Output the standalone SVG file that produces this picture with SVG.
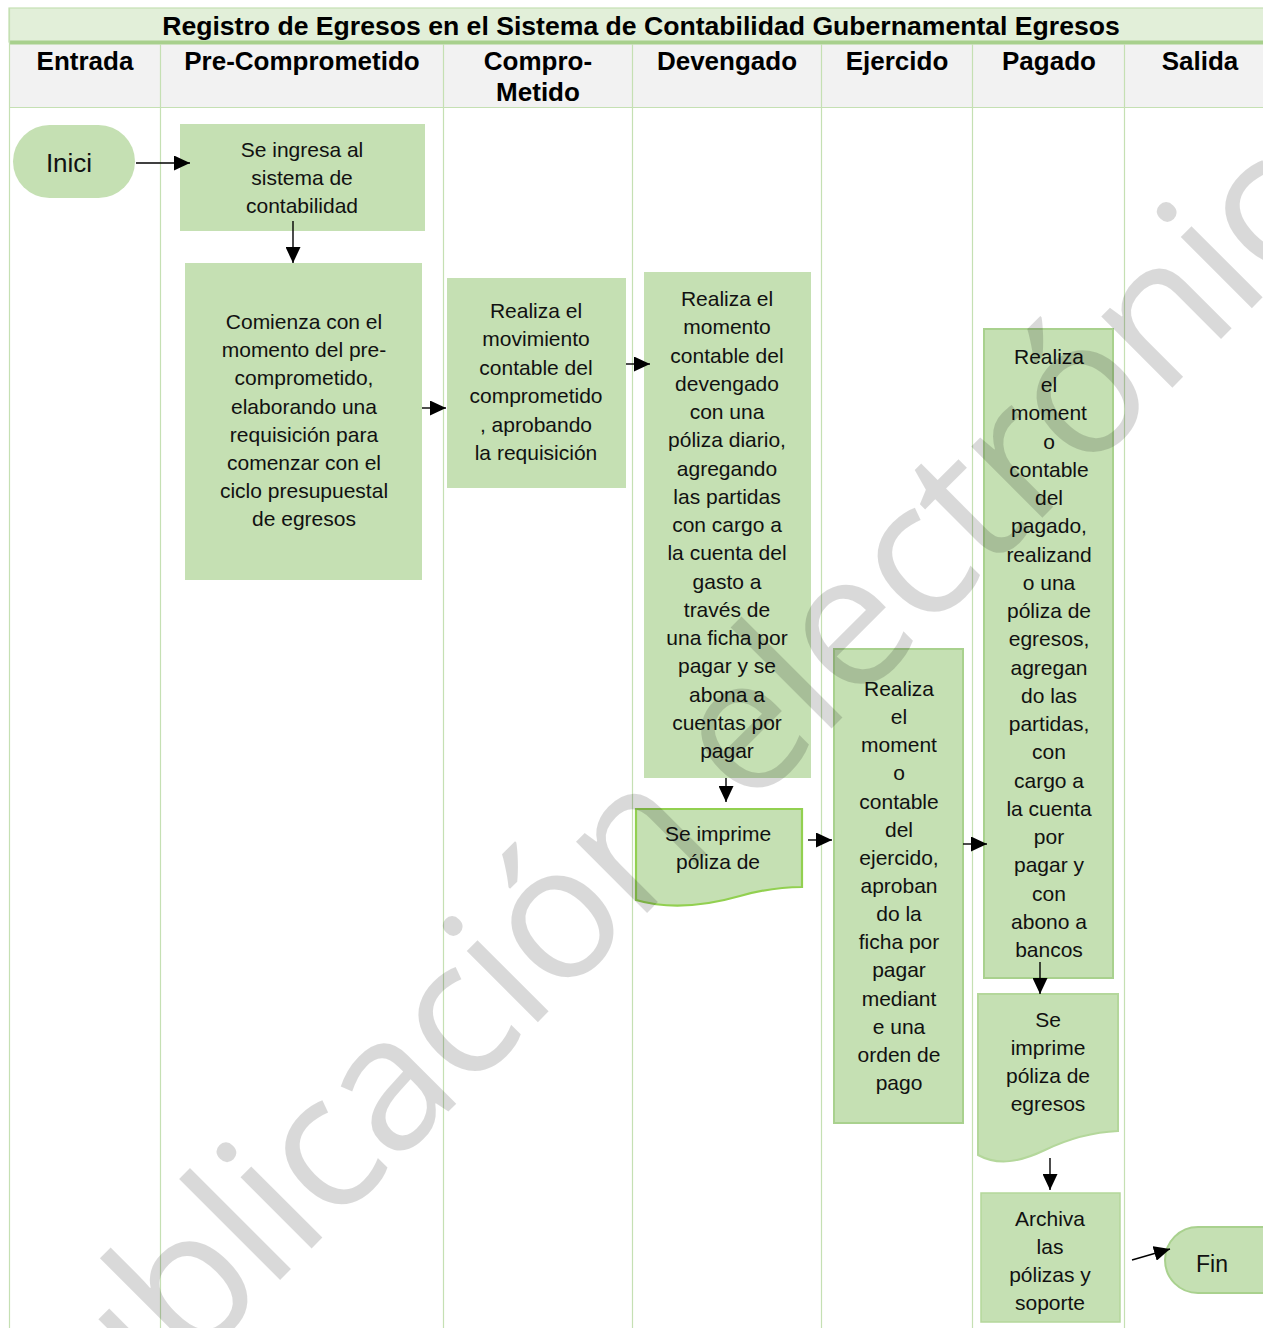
<svg xmlns="http://www.w3.org/2000/svg" width="1263" height="1328" viewBox="0 0 1263 1328">
  <style>
    .lane { stroke: #c5e0b3; stroke-width: 1.2; }
    .title { font-family: "Liberation Sans", Arial, sans-serif; font-weight: bold; font-size: 26.6px; fill: #000; text-anchor: middle; }
    .hdr { font-family: "Liberation Sans", Arial, sans-serif; font-weight: bold; font-size: 26px; fill: #000; text-anchor: middle; }
    .box { fill: #c5e0b3; }
    .edge { stroke: #a9d18e; stroke-width: 2; }
    .txt { font-family: "Liberation Sans", Arial, sans-serif; font-size: 21px; fill: #111; text-anchor: middle; }
    .term { font-family: "Liberation Sans", Arial, sans-serif; font-size: 26px; fill: #111; text-anchor: middle; }
    .conn { stroke: #000; stroke-width: 1.4; fill: none; marker-end: url(#arrow); }
    .wm { font-family: "Open Sans", "Noto Sans", sans-serif; font-size: 188px; letter-spacing: -3px; fill: #000; fill-opacity: 0.15; }
  </style>
  <defs>
    <marker id="arrow" markerUnits="userSpaceOnUse" markerWidth="16" markerHeight="15" refX="16" refY="7.5" orient="auto">
      <path d="M0,0 L16,7.5 L0,15 Z" fill="#000"/>
    </marker>
  </defs>

  <rect width="1263" height="1328" fill="#fff"/>

  <!-- swimlane frame -->
  <g id="frame">
    <rect x="9" y="8" width="1260" height="34" fill="#e2efd9" stroke="#c5e0b3" stroke-width="1.2"/>
    <rect x="9" y="44" width="1260" height="63" fill="#f2f2f2"/>
    <line x1="9" y1="42.5" x2="1263" y2="42.5" stroke="#a8d08d" stroke-width="4"/>
    <line x1="9" y1="107.5" x2="1263" y2="107.5" class="lane"/>
    <line x1="9.5" y1="8" x2="9.5" y2="1328" class="lane"/>
    <line x1="160.5" y1="44" x2="160.5" y2="1328" class="lane"/>
    <line x1="443.5" y1="44" x2="443.5" y2="1328" class="lane"/>
    <line x1="632.5" y1="44" x2="632.5" y2="1328" class="lane"/>
    <line x1="821.5" y1="44" x2="821.5" y2="1328" class="lane"/>
    <line x1="972.5" y1="44" x2="972.5" y2="1328" class="lane"/>
    <line x1="1124.5" y1="44" x2="1124.5" y2="1328" class="lane"/>
    <text class="title" x="641" y="35">Registro de Egresos en el Sistema de Contabilidad Gubernamental Egresos</text>
    <text class="hdr" x="85" y="70">Entrada</text>
    <text class="hdr" x="302" y="70">Pre-Comprometido</text>
    <text class="hdr" x="538" y="70">Compro-</text>
    <text class="hdr" x="538" y="101">Metido</text>
    <text class="hdr" x="727" y="70">Devengado</text>
    <text class="hdr" x="897" y="70">Ejercido</text>
    <text class="hdr" x="1049" y="70">Pagado</text>
    <text class="hdr" x="1200" y="70">Salida</text>
  </g>

  <!-- nodes -->
  <g id="inicio">
    <rect class="box" x="13" y="125" width="122" height="73" rx="36.5"/>
    <text class="term" x="69" y="172">Inici</text>
  </g>

  <g id="ingreso">
    <rect class="box" x="180" y="124" width="245" height="107"/>
    <text class="txt" x="302" y="157">Se ingresa al<tspan x="302" dy="28">sistema de</tspan><tspan x="302" dy="28">contabilidad</tspan></text>
  </g>

  <g id="precomprometido">
    <rect class="box" x="185" y="263" width="237" height="317"/>
    <text class="txt" x="304" y="329">Comienza con el<tspan x="304" dy="28.2">momento del pre-</tspan><tspan x="304" dy="28.2">comprometido,</tspan><tspan x="304" dy="28.2">elaborando una</tspan><tspan x="304" dy="28.2">requisición para</tspan><tspan x="304" dy="28.2">comenzar con el</tspan><tspan x="304" dy="28.2">ciclo presupuestal</tspan><tspan x="304" dy="28.2">de egresos</tspan></text>
  </g>

  <g id="comprometido">
    <rect class="box" x="447" y="278" width="179" height="210"/>
    <text class="txt" x="536" y="318">Realiza el<tspan x="536" dy="28.4">movimiento</tspan><tspan x="536" dy="28.4">contable del</tspan><tspan x="536" dy="28.4">comprometido</tspan><tspan x="536" dy="28.4">, aprobando</tspan><tspan x="536" dy="28.4">la requisición</tspan></text>
  </g>

  <g id="devengado">
    <rect class="box" x="644" y="272" width="167" height="506"/>
    <text class="txt" x="727" y="306">Realiza el<tspan x="727" dy="28.25">momento</tspan><tspan x="727" dy="28.25">contable del</tspan><tspan x="727" dy="28.25">devengado</tspan><tspan x="727" dy="28.25">con una</tspan><tspan x="727" dy="28.25">póliza diario,</tspan><tspan x="727" dy="28.25">agregando</tspan><tspan x="727" dy="28.25">las partidas</tspan><tspan x="727" dy="28.25">con cargo a</tspan><tspan x="727" dy="28.25">la cuenta del</tspan><tspan x="727" dy="28.25">gasto a</tspan><tspan x="727" dy="28.25">través de</tspan><tspan x="727" dy="28.25">una ficha por</tspan><tspan x="727" dy="28.25">pagar y se</tspan><tspan x="727" dy="28.25">abona a</tspan><tspan x="727" dy="28.25">cuentas por</tspan><tspan x="727" dy="28.25">pagar</tspan></text>
  </g>

  <g id="poliza-diario">
    <path class="box" d="M636,809 H802 V887 C785,887 765,889 740,896 C705,906 670,910 636,900 Z" stroke="#92d050" stroke-width="2.2"/>
    <text class="txt" x="718" y="841">Se imprime<tspan x="718" dy="28">póliza de</tspan></text>
  </g>

  <g id="ejercido">
    <rect class="box edge" x="834" y="649" width="129" height="474"/>
    <text class="txt" x="899" y="696">Realiza<tspan x="899" dy="28.14">el</tspan><tspan x="899" dy="28.14">moment</tspan><tspan x="899" dy="28.14">o</tspan><tspan x="899" dy="28.14">contable</tspan><tspan x="899" dy="28.14">del</tspan><tspan x="899" dy="28.14">ejercido,</tspan><tspan x="899" dy="28.14">aproban</tspan><tspan x="899" dy="28.14">do la</tspan><tspan x="899" dy="28.14">ficha por</tspan><tspan x="899" dy="28.14">pagar</tspan><tspan x="899" dy="28.14">mediant</tspan><tspan x="899" dy="28.14">e una</tspan><tspan x="899" dy="28.14">orden de</tspan><tspan x="899" dy="28.14">pago</tspan></text>
  </g>

  <g id="pagado">
    <rect class="box edge" x="984" y="329" width="129" height="649"/>
    <text class="txt" x="1049" y="364">Realiza<tspan x="1049" dy="28.24">el</tspan><tspan x="1049" dy="28.24">moment</tspan><tspan x="1049" dy="28.24">o</tspan><tspan x="1049" dy="28.24">contable</tspan><tspan x="1049" dy="28.24">del</tspan><tspan x="1049" dy="28.24">pagado,</tspan><tspan x="1049" dy="28.24">realizand</tspan><tspan x="1049" dy="28.24">o una</tspan><tspan x="1049" dy="28.24">póliza de</tspan><tspan x="1049" dy="28.24">egresos,</tspan><tspan x="1049" dy="28.24">agregan</tspan><tspan x="1049" dy="28.24">do las</tspan><tspan x="1049" dy="28.24">partidas,</tspan><tspan x="1049" dy="28.24">con</tspan><tspan x="1049" dy="28.24">cargo a</tspan><tspan x="1049" dy="28.24">la cuenta</tspan><tspan x="1049" dy="28.24">por</tspan><tspan x="1049" dy="28.24">pagar y</tspan><tspan x="1049" dy="28.24">con</tspan><tspan x="1049" dy="28.24">abono a</tspan><tspan x="1049" dy="28.24">bancos</tspan></text>
  </g>

  <g id="poliza-egresos">
    <path class="box" d="M978,994 H1118 V1131 C1095,1132 1070,1138 1045,1150 C1020,1162 998,1166 978,1155 Z" stroke="#b4d79b" stroke-width="2"/>
    <text class="txt" x="1048" y="1027">Se<tspan x="1048" dy="28">imprime</tspan><tspan x="1048" dy="28">póliza de</tspan><tspan x="1048" dy="28">egresos</tspan></text>
  </g>

  <g id="archivo">
    <rect class="box" x="981" y="1193" width="139" height="129" stroke="#b4d79b" stroke-width="1.5"/>
    <text class="txt" x="1050" y="1226">Archiva<tspan x="1050" dy="28">las</tspan><tspan x="1050" dy="28">pólizas y</tspan><tspan x="1050" dy="28">soporte</tspan></text>
  </g>

  <g id="fin">
    <rect class="box edge" x="1165" y="1227" width="130" height="66" rx="33"/>
    <text class="txt" x="1212" y="1272" style="font-size:23px">Fin</text>
  </g>

  <!-- connectors -->
  <g id="connectors">
    <line class="conn" x1="136" y1="163" x2="190" y2="163"/>
    <line class="conn" x1="293" y1="221" x2="293" y2="263"/>
    <line class="conn" x1="422" y1="408" x2="446" y2="408"/>
    <line class="conn" x1="626" y1="364" x2="650" y2="364"/>
    <line class="conn" x1="726" y1="778" x2="726" y2="802"/>
    <line class="conn" x1="808" y1="840" x2="832" y2="840"/>
    <line class="conn" x1="963" y1="844" x2="987" y2="844"/>
    <line class="conn" x1="1040" y1="962" x2="1040" y2="994"/>
    <line class="conn" x1="1050" y1="1158" x2="1050" y2="1190"/>
    <line class="conn" x1="1132" y1="1260" x2="1170" y2="1249"/>
  </g>

  <!-- watermark -->
  <g id="watermark" transform="translate(31,1529) rotate(-45)">
    <text class="wm" x="0" y="0">publicación electrónica</text>
  </g>
</svg>
